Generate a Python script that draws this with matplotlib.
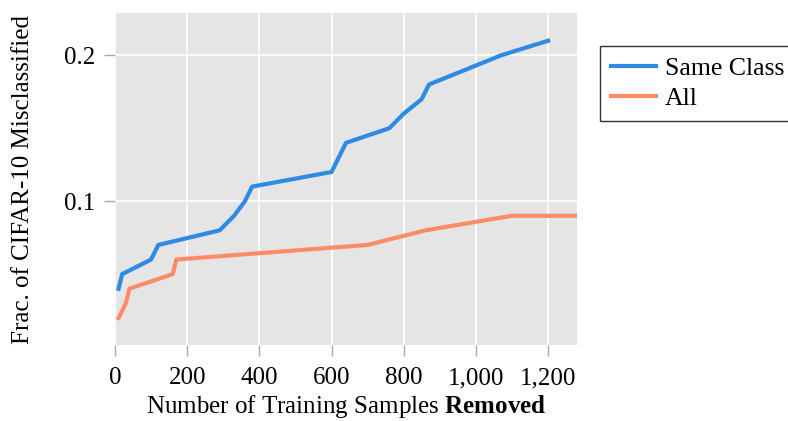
import matplotlib
matplotlib.use("Agg")
import matplotlib.pyplot as plt
from matplotlib.ticker import FuncFormatter

# data
same_x = [10, 20, 100, 120, 290, 330, 360, 380, 600, 640, 760, 800, 850, 870, 1070, 1200]
same_y = [0.04, 0.05, 0.06, 0.07, 0.08, 0.09, 0.10, 0.11, 0.12, 0.14, 0.15, 0.16, 0.17, 0.18, 0.20, 0.21]
all_x = [10, 30, 40, 160, 170, 700, 860, 1100, 1280]
all_y = [0.02, 0.03, 0.04, 0.05, 0.06, 0.07, 0.08, 0.09, 0.09]
x_ticks = [0, 200, 400, 600, 800, 1000, 1200]
y_ticks = [0.1, 0.2]

plt.rcParams['font.family'] = ['Liberation Serif', 'DejaVu Serif']
plt.rcParams['mathtext.fontset'] = 'custom'
plt.rcParams['mathtext.rm'] = 'Liberation Serif'
plt.rcParams['mathtext.bf'] = 'Liberation Serif:bold'

fs = 18

fig = plt.figure(figsize=(7.88, 4.21), dpi=100)
ax = fig.add_axes([0.1459, 0.1805, 0.5863, 0.7886])
ax.set_facecolor('#e5e5e5')
for s in ax.spines.values():
    s.set_visible(False)
ax.grid(True, color='white', linewidth=1.2)
ax.set_axisbelow(True)

ax.plot(same_x, same_y, color='#2f8ae6', linewidth=3, label='Same Class')
ax.plot(all_x, all_y, color='#ff8c66', linewidth=3, label='All')

ax.set_xlim(0, 1280)
ax.set_ylim(0.0014, 0.229)
ax.set_xticks(x_ticks)
ax.set_yticks(y_ticks)
ax.xaxis.set_major_formatter(FuncFormatter(lambda v, p: f"{int(v):,}"))
ax.yaxis.set_major_formatter(FuncFormatter(lambda v, p: f"{v:g}"))
ax.tick_params(length=8, width=1, color='#aaaaaa', pad=6, labelsize=fs)
ax.tick_params(axis='x', pad=8)

ax.set_xlabel(r"Number of Training Samples $\mathbf{Removed}$", fontsize=fs, labelpad=3)
ax.set_ylabel("Frac. of CIFAR-10 Misclassified", fontsize=fs, labelpad=22)

leg = fig.legend(loc='upper left', bbox_to_anchor=(0.7614, 0.8907), borderaxespad=0,
                 frameon=True, fancybox=False, edgecolor='black', fontsize=18.5,
                 handlelength=1.75, handletextpad=0.35, borderpad=0.42, labelspacing=0.3)
leg.get_frame().set_linewidth(1.0)

fig.savefig('out.png', dpi=100)
